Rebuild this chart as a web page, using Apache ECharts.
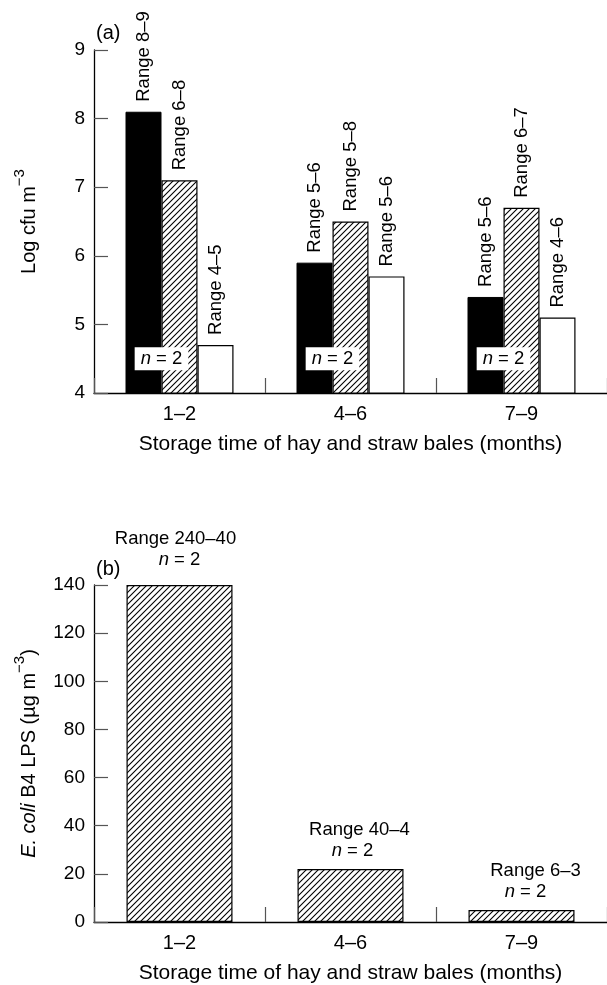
<!DOCTYPE html>
<html>
<head>
<meta charset="utf-8">
<script src="https://cdn.jsdelivr.net/npm/echarts@6/dist/echarts.min.js"></script>
<style>
html, body { margin: 0; padding: 0; background: #fff; }
#main { width: 607px; height: 985px; }
</style>
</head>
<body>
<div id="main"></div>
<script>
'use strict';
// data
var months = ['1\u20132', '4\u20136', '7\u20139'];
// (a) log cfu m-3, three bale groups per storage time
var cfuBlack = [8.1, 5.9, 5.4];
var cfuHatch = [7.1, 6.5, 6.7];
var cfuWhite = [4.7, 5.7, 5.1];
var rangeBlack = ['8\u20139', '5\u20136', '5\u20136'];
var rangeHatch = ['6\u20138', '5\u20138', '6\u20137'];
var rangeWhite = ['4\u20135', '5\u20136', '4\u20136'];
var nTop = [2, 2, 2];
// (b) E. coli B4 LPS, ug m-3
var lps = [140, 22, 5];
var rangeLps = ['240\u201340', '40\u20134', '6\u20133'];
var nLps = [2, 2, 2];

var FONT = '"Liberation Sans", Arial, Helvetica, sans-serif';
var ANNO = 18.5;

// diagonal hatch fill (////)
function makeHatch() {
    var s = 6;
    var c = document.createElement('canvas');
    c.width = s;
    c.height = s;
    var ctx = c.getContext('2d');
    ctx.fillStyle = '#fff';
    ctx.fillRect(0, 0, s, s);
    ctx.strokeStyle = '#000';
    ctx.lineWidth = 1.1;
    ctx.beginPath();
    ctx.moveTo(-1, s + 1); ctx.lineTo(s + 1, -1);
    ctx.moveTo(-1, 1); ctx.lineTo(1, -1);
    ctx.moveTo(s - 1, s + 1); ctx.lineTo(s + 1, s - 1);
    ctx.stroke();
    return { image: c, repeat: 'repeat' };
}
var hatch = makeHatch();

function catAxis(gi) {
    return {
        type: 'category',
        gridIndex: gi,
        data: months,
        name: 'Storage time of hay and straw bales (months)',
        nameLocation: 'middle',
        nameGap: 41,
        nameTextStyle: { fontSize: 21, color: '#000', fontFamily: FONT },
        axisLine: { show: true, lineStyle: { color: '#000', width: 1.3 } },
        axisTick: { show: true, inside: true, length: 15, lineStyle: { color: '#555', width: 1.2 } },
        axisLabel: { show: true, fontSize: 20, color: '#000', margin: 11, fontFamily: FONT },
        splitLine: { show: false }
    };
}

function valAxis(gi, min, max, step, name) {
    return {
        type: 'value',
        gridIndex: gi,
        min: min,
        max: max,
        interval: step,
        name: name,
        nameLocation: 'middle',
        nameGap: 47,
        nameTextStyle: {
            fontSize: 20, color: '#000', fontFamily: FONT,
            rich: {
                sup: { fontSize: 15, fontFamily: FONT, color: '#000', padding: [0, 0, 20, 0] },
                it: { fontSize: 20, fontFamily: FONT, color: '#000', fontStyle: 'italic' }
            }
        },
        axisLine: { show: true, lineStyle: { color: '#000', width: 1.3 } },
        axisTick: { show: true, inside: true, length: 14, lineStyle: { color: '#555', width: 1.2 } },
        axisLabel: { show: true, fontSize: 19, color: '#000', margin: 9, fontFamily: FONT },
        splitLine: { show: false }
    };
}

function rangeLabel(arr) {
    return {
        show: true,
        position: 'top',
        rotate: 90,
        align: 'left',
        verticalAlign: 'middle',
        distance: 10,
        fontSize: ANNO,
        color: '#000',
        fontFamily: FONT,
        formatter: function (p) { return 'Range ' + arr[p.dataIndex]; }
    };
}

var lpsShift = [[0, -7], [2, 0], [4, 0]];

var option = {
    animation: false,
    backgroundColor: '#fff',
    textStyle: { fontFamily: FONT },
    title: [
        { text: '(a)', left: 96, top: 23, padding: 0, textStyle: { fontSize: 20, fontWeight: 'normal', color: '#000', fontFamily: FONT } },
        { text: '(b)', left: 96, top: 559, padding: 0, textStyle: { fontSize: 20, fontWeight: 'normal', color: '#000', fontFamily: FONT } }
    ],
    grid: [
        { left: 94, top: 50, right: -6, height: 343 },
        { left: 94, top: 585, right: -6, height: 340 }
    ],
    xAxis: [catAxis(0), catAxis(1)],
    yAxis: [
        valAxis(0, 4, 9, 1, 'Log cfu m{sup|\u22123}'),
        valAxis(1, 0, 140, 20, '{it|E. coli} B4 LPS (\u00b5g m{sup|\u22123})')
    ],
    series: [
        {
            type: 'bar', xAxisIndex: 0, yAxisIndex: 0,
            data: cfuBlack, barWidth: 36, barGap: '0%',
            itemStyle: { color: '#000', borderColor: '#000', borderWidth: 1 },
            label: rangeLabel(rangeBlack)
        },
        {
            type: 'bar', xAxisIndex: 0, yAxisIndex: 0,
            data: cfuHatch, barWidth: 36, barGap: '0%',
            itemStyle: { color: hatch, borderColor: '#000', borderWidth: 1.2 },
            label: rangeLabel(rangeHatch)
        },
        {
            type: 'bar', xAxisIndex: 0, yAxisIndex: 0,
            data: cfuWhite, barWidth: 36, barGap: '0%',
            itemStyle: { color: '#fff', borderColor: '#000', borderWidth: 1.2 },
            label: rangeLabel(rangeWhite)
        },
        {
            // n = 2 boxes, sitting on the black / hatched bar seam
            type: 'scatter', xAxisIndex: 0, yAxisIndex: 0, z: 5,
            symbol: 'circle',
            symbolSize: 2,
            itemStyle: { color: 'rgba(0,0,0,0)', opacity: 1 },
            data: months.map(function (m) { return [m, 4.5]; }),
            label: {
                show: true,
                position: 'inside',
                offset: [-18, 0],
                opacity: 1,
                backgroundColor: '#fff',
                padding: [2, 6],
                fontSize: ANNO,
                color: '#000',
                fontFamily: FONT,
                formatter: function (p) { return '{it|n} = ' + nTop[p.dataIndex]; },
                rich: { it: { fontStyle: 'italic', fontSize: ANNO, fontFamily: FONT, color: '#000' } }
            }
        },
        {
            type: 'bar', xAxisIndex: 1, yAxisIndex: 1,
            barWidth: 106,
            itemStyle: { color: hatch, borderColor: '#000', borderWidth: 1.2 },
            data: lps.map(function (v, i) {
                return { value: v, label: { offset: lpsShift[i] } };
            }),
            label: {
                show: true,
                position: 'top',
                distance: 8,
                fontSize: ANNO,
                color: '#000',
                fontFamily: FONT,
                lineHeight: 21,
                formatter: function (p) {
                    var i = p.dataIndex;
                    return '{r' + i + '|Range ' + rangeLps[i] + '}\n{it|n} = ' + nLps[i];
                },
                rich: {
                    r0: { fontSize: ANNO, fontFamily: FONT, color: '#000', lineHeight: 21, padding: [0, 8, 0, 0] },
                    r1: { fontSize: ANNO, fontFamily: FONT, color: '#000', lineHeight: 21, padding: [0, 0, 0, 14] },
                    r2: { fontSize: ANNO, fontFamily: FONT, color: '#000', lineHeight: 21, padding: [0, 0, 0, 20] },
                    it: { fontStyle: 'italic', fontSize: ANNO, fontFamily: FONT, color: '#000', lineHeight: 21 }
                }
            }
        }
    ]
};

var myChart = echarts.init(document.getElementById('main'), null, { renderer: 'canvas' });
myChart.setOption(option);
</script>
</body>
</html>
